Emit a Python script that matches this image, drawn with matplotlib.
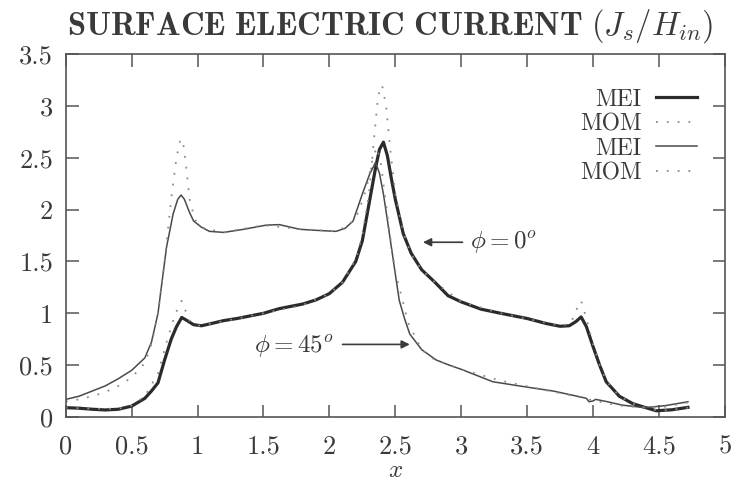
import matplotlib
matplotlib.use("Agg")
import matplotlib.pyplot as plt
from matplotlib.ticker import FuncFormatter, MultipleLocator

plt.rcParams['font.family'] = 'serif'
plt.rcParams['font.serif'] = ['cmr10', 'DejaVu Serif']
plt.rcParams['mathtext.fontset'] = 'cm'
plt.rcParams['axes.formatter.use_mathtext'] = True

# MEI, phi = 0 (thick solid)
x_mei0 = [0, 0.1, 0.2, 0.3, 0.4, 0.5, 0.6, 0.65, 0.7, 0.75, 0.8, 0.84, 0.88, 0.92, 0.97,
          1.03, 1.1, 1.2, 1.3, 1.5, 1.62, 1.8, 1.9, 2.0, 2.1, 2.2, 2.25, 2.3, 2.35, 2.38,
          2.41, 2.44, 2.47, 2.5, 2.56, 2.62, 2.7, 2.8, 2.9, 3.0, 3.15, 3.3, 3.5, 3.65, 3.75,
          3.82, 3.87, 3.91, 3.95, 4.0, 4.05, 4.1, 4.2, 4.3, 4.375, 4.48, 4.6, 4.72]
y_mei0 = [0.09, 0.085, 0.075, 0.068, 0.075, 0.105, 0.18, 0.25, 0.33, 0.55, 0.75, 0.87, 0.96,
          0.93, 0.89, 0.88, 0.9, 0.93, 0.95, 1.0, 1.045, 1.09, 1.13, 1.19, 1.3, 1.5, 1.7,
          2.05, 2.4, 2.58, 2.65, 2.52, 2.3, 2.1, 1.77, 1.58, 1.42, 1.3, 1.17, 1.11, 1.04,
          1.0, 0.95, 0.9, 0.875, 0.88, 0.92, 0.965, 0.87, 0.68, 0.5, 0.34, 0.2, 0.13, 0.1,
          0.06, 0.07, 0.093]

# MOM, phi = 0 (dotted)
x_mom0 = [0, 0.2, 0.4, 0.5, 0.6, 0.7, 0.76, 0.82, 0.86, 0.88, 0.9, 0.94, 1.0, 1.1, 1.3, 1.5,
          1.8, 2.0, 2.1, 2.2, 2.25, 2.3, 2.34, 2.37, 2.4, 2.43, 2.46, 2.5, 2.56, 2.62, 2.7,
          2.8, 3.0, 3.3, 3.6, 3.75, 3.83, 3.88, 3.91, 3.95, 4.0, 4.05, 4.1, 4.2, 4.3, 4.4,
          4.5, 4.6, 4.72]
y_mom0 = [0.09, 0.08, 0.08, 0.11, 0.2, 0.42, 0.7, 0.95, 1.08, 1.12, 1.05, 0.93, 0.88, 0.9,
          0.95, 1.0, 1.08, 1.19, 1.3, 1.52, 1.75, 2.15, 2.7, 3.1, 3.2, 3.0, 2.6, 2.15, 1.78,
          1.57, 1.42, 1.3, 1.11, 1.0, 0.92, 0.88, 0.9, 1.05, 1.12, 0.95, 0.7, 0.5, 0.35, 0.2,
          0.13, 0.09, 0.06, 0.07, 0.09]

# MEI, phi = 45 (thin solid)
x_mei45 = [0, 0.1, 0.2, 0.3, 0.4, 0.5, 0.6, 0.65, 0.7, 0.72, 0.765, 0.815, 0.85, 0.875, 0.9,
           0.94, 0.97, 1.03, 1.09, 1.2, 1.35, 1.52, 1.62, 1.775, 1.9, 2.05, 2.12, 2.18, 2.25,
           2.305, 2.35, 2.38, 2.41, 2.44, 2.47, 2.5, 2.53, 2.57, 2.61, 2.7, 2.81, 2.91, 3.0,
           3.1, 3.24, 3.49, 3.7, 3.9, 3.95, 3.97, 4.0, 4.02, 4.1, 4.22, 4.39, 4.55, 4.72]
y_mei45 = [0.17, 0.2, 0.25, 0.3, 0.37, 0.45, 0.57, 0.72, 1.0, 1.2, 1.64, 1.96, 2.1, 2.14, 2.1,
           1.97, 1.89, 1.83, 1.79, 1.78, 1.81, 1.85, 1.855, 1.81, 1.8, 1.79, 1.82, 1.89, 2.15,
           2.34, 2.455, 2.35, 2.15, 1.9, 1.64, 1.38, 1.125, 0.95, 0.8, 0.65, 0.55, 0.5, 0.46,
           0.41, 0.34, 0.29, 0.25, 0.195, 0.18, 0.147, 0.155, 0.17, 0.15, 0.115, 0.09, 0.11,
           0.147]

# MOM, phi = 45 (dotted)
x_mom45 = [0, 0.1, 0.2, 0.3, 0.4, 0.5, 0.6, 0.65, 0.7, 0.75, 0.8, 0.84, 0.87, 0.89, 0.91,
           0.94, 0.98, 1.05, 1.2, 1.5, 1.8, 2.05, 2.15, 2.22, 2.28, 2.33, 2.36, 2.39, 2.42,
           2.46, 2.5, 2.55, 2.6, 2.7, 2.8, 3.0, 3.3, 3.6, 3.9, 4.0, 4.2, 4.4, 4.55, 4.72]
y_mom45 = [0.15, 0.17, 0.2, 0.24, 0.3, 0.38, 0.52, 0.7, 1.0, 1.5, 2.1, 2.5, 2.68, 2.65, 2.45,
           2.1, 1.9, 1.82, 1.78, 1.85, 1.81, 1.79, 1.85, 1.97, 2.2, 2.5, 2.6, 2.45, 2.15,
           1.75, 1.4, 1.15, 0.9, 0.65, 0.55, 0.46, 0.35, 0.27, 0.19, 0.16, 0.11, 0.09, 0.1,
           0.14]

labels = ["MEI", "MOM", "MEI", "MOM"]
x_ticks = [0, 0.5, 1, 1.5, 2, 2.5, 3, 3.5, 4, 4.5, 5]

ink = '#3a3a3a'
dotted = (0, (1, 5))

fig = plt.figure(figsize=(7.41, 4.84), dpi=100)
ax = fig.add_axes([0.0887, 0.1384, 0.8895, 0.7500])

ax.plot(x_mei0, y_mei0, color='#2b2b2b', lw=2.3, label=labels[0])
ax.plot(x_mom0, y_mom0, color='#8a8a8a', lw=1.3, ls=dotted, label=labels[1])
ax.plot(x_mei45, y_mei45, color='#4a4a4a', lw=1.1, label=labels[2])
ax.plot(x_mom45, y_mom45, color='#8a8a8a', lw=1.3, ls=dotted, label=labels[3])

ax.set_xlim(0, 5)
ax.set_ylim(0, 3.5)
ax.set_xticks(x_ticks)
ax.yaxis.set_major_locator(MultipleLocator(0.5))
fmt = FuncFormatter(lambda v, p: '%g' % v)
ax.xaxis.set_major_formatter(fmt)
ax.yaxis.set_major_formatter(fmt)
ax.tick_params(direction='in', length=9, width=1.1, top=True, right=True,
               labelsize=19, colors='#555555', labelcolor=ink, pad=9)
ax.tick_params(axis='x', pad=13)
for s in ax.spines.values():
    s.set_color('#555555')
    s.set_linewidth(1.2)

ax.set_xlabel('$x$', fontsize=18, color=ink, labelpad=1)

leg = ax.legend(loc='upper right', bbox_to_anchor=(0.9575, 0.905), frameon=False,
                markerfirst=False, fontsize=17, handlelength=1.75, handletextpad=0.6,
                labelspacing=0.1, borderpad=0, borderaxespad=0)
for t in leg.get_texts():
    t.set_color(ink)

arrow = dict(arrowstyle='-|>', color=ink, lw=1.2, mutation_scale=12, shrinkA=0, shrinkB=0)
ax.annotate('', xy=(2.71, 1.685), xytext=(3.01, 1.685), arrowprops=arrow)
ax.text(3.07, 1.685, r'$\phi = 0^o$', fontsize=18, color=ink, va='center', ha='left')
ax.annotate('', xy=(2.61, 0.70), xytext=(2.10, 0.70), arrowprops=arrow)
ax.text(2.03, 0.68, r'$\phi = 45^o$', fontsize=18, color=ink, va='center', ha='right')

fig.text(390 / 741, 1 - 35 / 484, r'$\mathbf{SURFACE\ ELECTRIC\ CURRENT}\ (J_s/H_{in})$',
         fontsize=23.5, color=ink, ha='center', va='baseline')

fig.savefig('out.png', dpi=100)
